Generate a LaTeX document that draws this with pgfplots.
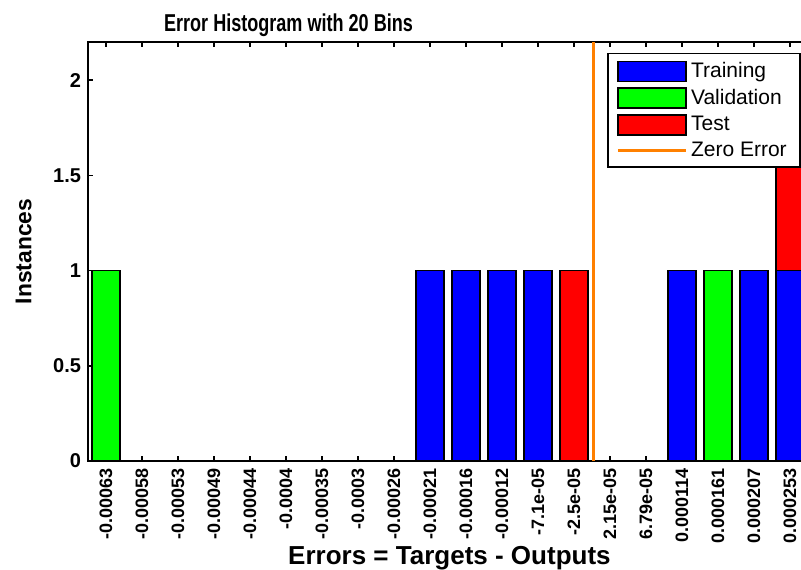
\documentclass[border=0pt]{standalone}
\usepackage{pgfplots}
\pgfplotsset{compat=1.18}
\usepackage{fontspec}
\setmainfont{Liberation Sans}
\newfontfamily\titlefont{Liberation Sans}[FakeStretch=0.74]
\definecolor{mblue}{RGB}{0,0,255}
\definecolor{mgreen}{RGB}{0,255,0}
\definecolor{mred}{RGB}{255,0,0}
\definecolor{zorange}{RGB}{255,128,0}
\pgfplotsset{
  mybar/.style={ybar, bar shift=0pt, bar width=0.78, draw=black, line width=0.75pt,
    legend image code/.code={\draw[##1] (0pt,-5pt) rectangle (34pt,5pt);}},
  zeroleg/.style={sharp plot, draw=zorange, line width=1.1pt,
    legend image code/.code={\draw[##1] (0pt,0pt)--(34pt,0pt);}},
}
\begin{document}
\begin{tikzpicture}
\begin{axis}[
  at={(0,0)}, anchor=south west,
  scale only axis, width=360pt, height=209.5pt,
  xmin=0.5, xmax=20.5, ymin=0, ymax=2.2,
  axis line style={line width=1pt},
  tick style={line width=0.8pt, black},
  major tick length=2.5pt,
  tick align=inside,
  xtick={1,...,20},
  xticklabels={-0.00063,-0.00058,-0.00053,-0.00049,-0.00044,-0.0004,-0.00035,-0.0003,-0.00026,-0.00021,-0.00016,-0.00012,-7.1e-05,-2.5e-05,2.15e-05,6.79e-05,0.000114,0.000161,0.000207,0.000253},
  ytick={0,0.5,1,1.5,2},
  x tick label style={rotate=90, anchor=east, font=\bfseries\fontsize{9}{9}\selectfont},
  y tick label style={font=\bfseries\fontsize{10}{10}\selectfont},
  /pgf/number format/assume math mode=true,
  title={Error Histogram with 20 Bins},
  every axis title/.style={at={(axis description cs:0.2785,1.0239)}, anchor=base, font=\titlefont\bfseries\fontsize{12.2}{12}\selectfont},
  xlabel={Errors = Targets - Outputs},
  every axis x label/.style={at={(axis description cs:0.502,-0.248)}, anchor=base, font=\bfseries\fontsize{13}{13}\selectfont},
  ylabel={Instances},
  every axis y label/.style={at={(axis description cs:-0.0895,0.5)}, anchor=center, rotate=90, font=\bfseries\fontsize{11.4}{11.4}\selectfont},
  legend style={at={(axis description cs:0.721,0.974)}, anchor=north west, draw=black, line width=0.75pt,
    font=\fontsize{10.5}{12}\selectfont, inner xsep=4.5pt, inner ysep=3.5pt, row sep=2.6pt,
    nodes={inner xsep=2pt, inner ysep=0.5pt}, cells={anchor=west}},
]
\addplot[mybar, fill=mred, forget plot] coordinates {(14,1) (20,2)};
\addplot[mybar, fill=mblue] coordinates {(10,1) (11,1) (12,1) (13,1) (17,1) (19,1) (20,1)};
\addlegendentry{Training}
\addplot[mybar, fill=mgreen] coordinates {(1,1) (18,1)};
\addlegendentry{Validation}
\addlegendimage{mybar, fill=mred}
\addlegendentry{Test}
\addplot[zeroleg] coordinates {(14.54,0) (14.54,2.2)};
\addlegendentry{Zero Error}
\end{axis}
\pgfresetboundingbox
\useasboundingbox (-44pt,-54pt) rectangle (356.5pt,230.5pt);
\end{tikzpicture}
\end{document}
